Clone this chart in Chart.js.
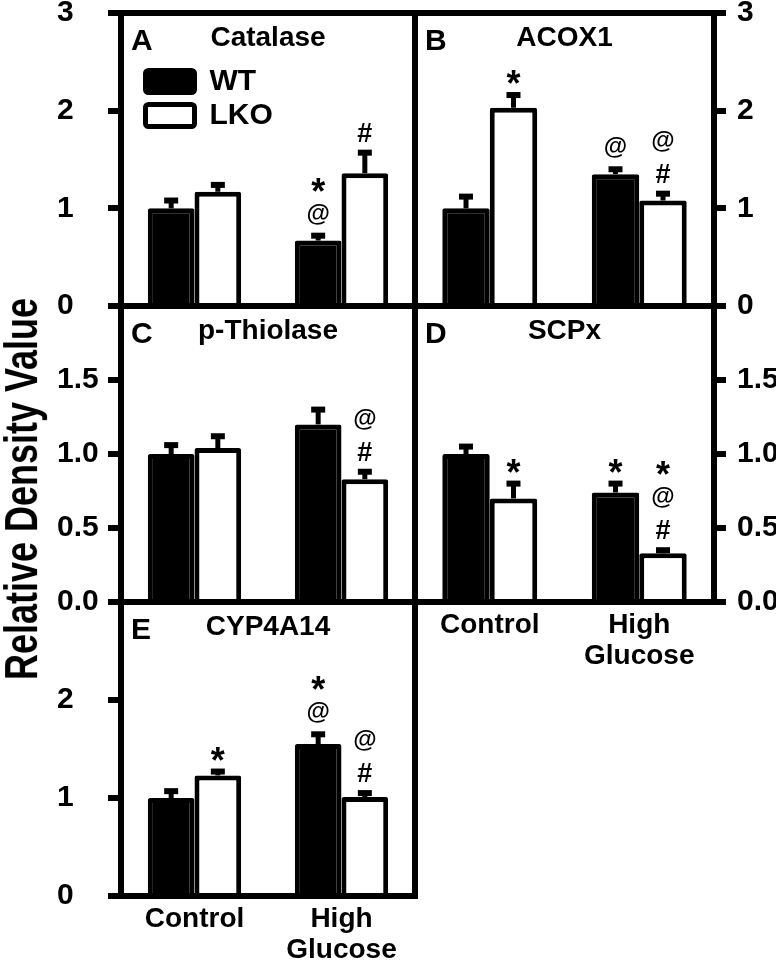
<!DOCTYPE html>
<html><head><meta charset="utf-8">
<script src="https://cdn.jsdelivr.net/npm/chart.js@4.4.1/dist/chart.umd.min.js"></script>
<style>
html,body{margin:0;padding:0;background:#fff;}
#wrap{position:relative;width:781px;height:965px;overflow:hidden;background:#fff;}
canvas{position:absolute;left:0;top:0;}
#ytitle{position:absolute;left:-226px;top:466px;width:500px;height:46px;line-height:46px;text-align:center;
  font:bold 36px 'Liberation Sans',Arial,sans-serif;color:#000;white-space:nowrap;
  transform:rotate(-90deg) scale(1,1.3);transform-origin:50% 50%;}
</style></head><body>
<div id="wrap">
<canvas id="cA" width="781" height="965"></canvas>
<canvas id="cB" width="781" height="965"></canvas>
<canvas id="cC" width="781" height="965"></canvas>
<canvas id="cD" width="781" height="965"></canvas>
<canvas id="cE" width="781" height="965"></canvas>
<div id="ytitle">Relative Density Value</div>
</div>
<script>
// ---------- data ----------
const categories = ['Control', ['High', 'Glucose']];
const seriesNames = ['WT', 'LKO'];
const panelLetters = ['A', 'B', 'C', 'D', 'E'];
const panelTitles = ['Catalase', 'ACOX1', 'p-Thiolase', 'SCPx', 'CYP4A14'];

const catalaseWT = [1.00, 0.67], catalaseWTErr = [0.08, 0.05];
const catalaseLKO = [1.17, 1.36], catalaseLKOErr = [0.07, 0.21];
const catalaseMarksWT = [[], ['*', '@']], catalaseMarksLKO = [[], ['#']];

const acox1WT = [1.00, 1.35], acox1WTErr = [0.12, 0.05];
const acox1LKO = [2.03, 1.08], acox1LKOErr = [0.13, 0.07];
const acox1MarksWT = [[], ['@']], acox1MarksLKO = [['*'], ['@', '#']];

const thiolaseWT = [1.00, 1.20], thiolaseWTErr = [0.06, 0.10];
const thiolaseLKO = [1.04, 0.83], thiolaseLKOErr = [0.08, 0.05];
const thiolaseMarksWT = [[], []], thiolaseMarksLKO = [[], ['@', '#']];

const scpxWT = [1.00, 0.74], scpxWTErr = [0.05, 0.06];
const scpxLKO = [0.70, 0.33], scpxLKOErr = [0.10, 0.02];
const scpxMarksWT = [[], ['*']], scpxMarksLKO = [['*'], ['*', '@', '#']];

const cypWT = [1.00, 1.55], cypWTErr = [0.07, 0.10];
const cypLKO = [1.23, 1.01], cypLKOErr = [0.04, 0.04];
const cypMarksWT = [[], ['*', '@']], cypMarksLKO = [['*'], ['@', '#']];

const ticksInt3 = [0, 1, 2, 3], ticksInt3Labels = ['0', '1', '2', '3'];
const ticksHalf = [0, 0.5, 1, 1.5], ticksHalfLabels = ['0.0', '0.5', '1.0', '1.5'];
const ticksInt2 = [0, 1, 2], ticksInt2Labels = ['0', '1', '2'];

// ---------- rendering ----------
const FAM = "'Liberation Sans', Arial, sans-serif";
Chart.defaults.font.family = FAM;
Chart.defaults.color = '#000';
const W = 781, H = 965;

function markFont(s) {
  if (s === '@') return '600 24px ' + FAM;
  if (s === '*') return 'bold 36px ' + FAM;
  return 'bold 27px ' + FAM;
}

const decoPlugin = {
  id: 'deco',
  afterLayout(chart, args, opts) {
    if (opts.legendPos && chart.legend) {
      const lg = chart.legend;
      lg.left = opts.legendPos[0]; lg.top = opts.legendPos[1];
      lg.right = lg.left + lg.width; lg.bottom = lg.top + lg.height;
    }
  },
  afterDatasetsDraw(chart, args, opts) {
    const ctx = chart.ctx, ca = chart.chartArea, ys = chart.scales.y;
    ctx.save();
    ctx.strokeStyle = '#000'; ctx.fillStyle = '#000';
    chart.data.datasets.forEach((ds, di) => {
      const meta = chart.getDatasetMeta(di);
      meta.data.forEach((bar, i) => {
        const v = ds.data[i], e = opts.errors[di][i];
        const yTop = ys.getPixelForValue(v), yErr = ys.getPixelForValue(v + e);
        ctx.lineCap = 'butt';
        ctx.lineWidth = 5;
        ctx.beginPath(); ctx.moveTo(bar.x, yTop); ctx.lineTo(bar.x, yErr); ctx.stroke();
        ctx.lineWidth = 6;
        ctx.beginPath(); ctx.moveTo(bar.x - 7, yErr); ctx.lineTo(bar.x + 7, yErr); ctx.stroke();
        const lines = opts.marks[di][i];
        let inkBottom = yErr - 3 - 8;
        ctx.textAlign = 'center'; ctx.textBaseline = 'alphabetic';
        for (let k = lines.length - 1; k >= 0; k--) {
          ctx.font = markFont(lines[k]);
          const m = ctx.measureText(lines[k]);
          const base = inkBottom - m.actualBoundingBoxDescent;
          ctx.fillText(lines[k], bar.x, base);
          inkBottom = base - m.actualBoundingBoxAscent - 12;
        }
      });
    });
    // frame
    ctx.lineWidth = 6;
    ctx.strokeRect(ca.left, ca.top, ca.right - ca.left, ca.bottom - ca.top);
    // letter and title
    ctx.textBaseline = 'alphabetic';
    ctx.font = 'bold 30px ' + FAM; ctx.textAlign = 'left';
    ctx.fillText(opts.letter, ca.left + 10, ca.top + 37);
    ctx.font = 'bold 28px ' + FAM; ctx.textAlign = 'center';
    ctx.fillText(opts.title, (ca.left + ca.right) / 2, ca.top + 33);
    ctx.restore();
  }
};

function makePanel(id, p) {
  const left = p.side === 'left';
  const yW = left ? p.area.l - 57 : 62;
  const xH = p.showX ? Math.min(70, H - p.area.b) : 0;
  const padding = {
    left: left ? 57 : p.area.l,
    right: left ? W - p.area.r : W - p.area.r - yW,
    top: p.area.t,
    bottom: H - p.area.b - xH
  };
  new Chart(document.getElementById(id), {
    type: 'bar',
    data: {
      labels: categories,
      datasets: [
        { label: seriesNames[0], data: p.wt, backgroundColor: '#000', borderColor: '#000', borderWidth: 5,
          borderRadius: 2, categoryPercentage: 0.635, barPercentage: 1 },
        { label: seriesNames[1], data: p.lko, backgroundColor: '#fff', borderColor: '#000', borderWidth: 5,
          borderRadius: 2, categoryPercentage: 0.635, barPercentage: 1 }
      ]
    },
    plugins: [decoPlugin],
    options: {
      responsive: false, animation: false, devicePixelRatio: 1,
      layout: { padding: padding, autoPadding: false },
      plugins: {
        legend: p.legend ? {
          display: true, position: 'chartArea', align: 'start',
          labels: { boxWidth: 49, boxHeight: 22, padding: 4, color: '#000',
            font: { size: 30, weight: 'bold', lineHeight: 1 }, useBorderRadius: true, borderRadius: 3 }
        } : { display: false },
        tooltip: { enabled: false },
        deco: { errors: [p.wtErr, p.lkoErr], marks: [p.wtMarks, p.lkoMarks], letter: p.letter, title: p.title,
          legendPos: p.legend ? [141.5, 62.5] : null }
      },
      scales: {
        x: {
          type: 'category', offset: true,
          grid: { display: false, drawTicks: false }, border: { display: false },
          ticks: { display: !!p.showX, color: '#000', padding: 8, maxRotation: 0, autoSkip: false,
            font: { size: 28, weight: 'bold', lineHeight: 1.1 } },
          afterFit: s => { s.height = xH; s.paddingLeft = 0; s.paddingRight = 0; s.paddingTop = 0; s.paddingBottom = 0; }
        },
        y: {
          type: 'linear', position: p.side, min: 0, max: p.yMax,
          afterBuildTicks: s => { s.ticks = p.tickVals.map(v => ({ value: v })); },
          afterFit: s => { s.width = yW; s.paddingTop = 0; s.paddingBottom = 0; s.paddingLeft = 0; s.paddingRight = 0; },
          ticks: { callback: (v, i) => p.tickLabels[i], crossAlign: left ? 'far' : 'near', padding: left ? 0 : 11,
            color: '#000', font: { size: 30, weight: 'bold', lineHeight: 1 } },
          grid: { display: true, drawOnChartArea: false, drawTicks: true, tickLength: left ? 13 : 12,
            lineWidth: 6, color: '#000' },
          border: { display: false }
        }
      }
    }
  });
}

makePanel('cA', { area: { l: 121, t: 13, r: 415, b: 306 }, side: 'left', yMax: 3, tickVals: ticksInt3, tickLabels: ticksInt3Labels,
  wt: catalaseWT, wtErr: catalaseWTErr, lko: catalaseLKO, lkoErr: catalaseLKOErr, wtMarks: catalaseMarksWT, lkoMarks: catalaseMarksLKO,
  letter: panelLetters[0], title: panelTitles[0], legend: true });
makePanel('cB', { area: { l: 415, t: 13, r: 714, b: 306 }, side: 'right', yMax: 3, tickVals: ticksInt3, tickLabels: ticksInt3Labels,
  wt: acox1WT, wtErr: acox1WTErr, lko: acox1LKO, lkoErr: acox1LKOErr, wtMarks: acox1MarksWT, lkoMarks: acox1MarksLKO,
  letter: panelLetters[1], title: panelTitles[1] });
makePanel('cC', { area: { l: 121, t: 306, r: 415, b: 602 }, side: 'left', yMax: 2, tickVals: ticksHalf, tickLabels: ticksHalfLabels,
  wt: thiolaseWT, wtErr: thiolaseWTErr, lko: thiolaseLKO, lkoErr: thiolaseLKOErr, wtMarks: thiolaseMarksWT, lkoMarks: thiolaseMarksLKO,
  letter: panelLetters[2], title: panelTitles[2] });
makePanel('cD', { area: { l: 415, t: 306, r: 714, b: 602 }, side: 'right', yMax: 2, tickVals: ticksHalf, tickLabels: ticksHalfLabels,
  wt: scpxWT, wtErr: scpxWTErr, lko: scpxLKO, lkoErr: scpxLKOErr, wtMarks: scpxMarksWT, lkoMarks: scpxMarksLKO,
  letter: panelLetters[3], title: panelTitles[3], showX: true });
makePanel('cE', { area: { l: 121, t: 602, r: 415, b: 896 }, side: 'left', yMax: 3, tickVals: ticksInt2, tickLabels: ticksInt2Labels,
  wt: cypWT, wtErr: cypWTErr, lko: cypLKO, lkoErr: cypLKOErr, wtMarks: cypMarksWT, lkoMarks: cypMarksLKO,
  letter: panelLetters[4], title: panelTitles[4], showX: true });
</script>
</body></html>
